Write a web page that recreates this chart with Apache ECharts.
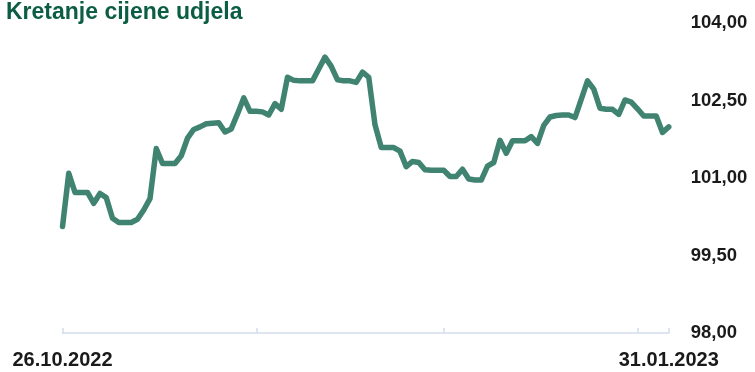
<!DOCTYPE html>
<html>
<head>
<meta charset="utf-8">
<script src="https://cdn.jsdelivr.net/npm/echarts@6/dist/echarts.min.js"></script>
<style>
  html, body { margin: 0; padding: 0; background: #ffffff; }
  #chart { width: 755px; height: 372px; }
</style>
</head>
<body>
<div id="chart"></div>
<script>
// Daily unit price, 26.10.2022 – 31.01.2023 (weekends and holidays carry the last price)
const startDate = [2022, 9, 26];
const dayCount = 98;

const prices = [
  100.06, 101.09, 100.72, 100.72, 100.72, 100.51, 100.70, 100.62, 100.22, 100.14,
  100.14, 100.14, 100.20, 100.38, 100.60, 101.57, 101.28, 101.28, 101.28, 101.43,
  101.77, 101.94, 101.99, 102.05, 102.06, 102.07, 101.89, 101.95, 102.24, 102.55,
  102.29, 102.29, 102.28, 102.22, 102.44, 102.33, 102.95, 102.89, 102.88, 102.88,
  102.88, 103.11, 103.34, 103.16, 102.90, 102.88, 102.88, 102.85, 103.05, 102.95,
  102.03, 101.59, 101.59, 101.59, 101.52, 101.22, 101.32, 101.30, 101.16, 101.15,
  101.15, 101.15, 101.03, 101.03, 101.17, 100.98, 100.96, 100.96, 101.23, 101.30,
  101.73, 101.48, 101.72, 101.72, 101.72, 101.80, 101.67, 102.02, 102.18, 102.21,
  102.22, 102.22, 102.17, 102.52, 102.88, 102.72, 102.35, 102.33, 102.33, 102.23,
  102.51, 102.47, 102.34, 102.20, 102.20, 102.20, 101.88, 101.99
];

const yMin = 98;
const yMax = 104;
const yStep = 1.5;

function pad(n) { return (n < 10 ? '0' : '') + n; }

// One category per calendar day, labelled dd.mm.yyyy
const dates = [];
for (let i = 0; i < dayCount; i++) {
  const d = new Date(startDate[0], startDate[1], startDate[2] + i);
  dates.push(pad(d.getDate()) + '.' + pad(d.getMonth() + 1) + '.' + d.getFullYear());
}
const lastIndex = dates.length - 1;

const chart = echarts.init(document.getElementById('chart'), null, { renderer: 'canvas' });

chart.setOption({
  animation: false,
  backgroundColor: '#ffffff',
  title: {
    text: 'Kretanje cijene udjela',
    left: 1,
    top: -4,
    textStyle: {
      fontFamily: 'Liberation Sans',
      fontWeight: 'bold',
      fontSize: 23,
      color: '#0b5d43'
    }
  },
  grid: { left: 62.5, right: 86.25, top: 23, bottom: 39 },
  xAxis: {
    type: 'category',
    data: dates,
    boundaryGap: false,
    axisLine: { show: true, lineStyle: { color: '#d3ddeb', width: 1.5 } },
    axisTick: {
      show: true,
      inside: true,
      length: 5,
      interval: function (idx, val) { return idx === 0 || idx === lastIndex || val.slice(0, 2) === '26'; },
      lineStyle: { color: '#d3ddeb', width: 1.5 }
    },
    axisLabel: {
      interval: function (idx) { return idx === 0 || idx === lastIndex; },
      margin: 17,
      fontFamily: 'Liberation Sans',
      fontWeight: 'bold',
      fontSize: 20,
      color: '#1a1a1a'
    },
    splitLine: { show: false }
  },
  yAxis: {
    type: 'value',
    position: 'right',
    min: yMin,
    max: yMax,
    interval: yStep,
    axisLine: { show: false },
    axisTick: { show: false },
    splitLine: { show: false },
    axisLabel: {
      margin: 22,
      fontFamily: 'Liberation Sans',
      fontWeight: 'bold',
      fontSize: 18.5,
      color: '#1a1a1a',
      formatter: function (v) { return v.toFixed(2).replace('.', ','); }
    }
  },
  series: [{
    type: 'line',
    data: prices,
    showSymbol: false,
    symbol: 'none',
    lineStyle: { color: '#3f8370', width: 5.5, join: 'round', cap: 'round' },
    itemStyle: { color: '#3f8370' }
  }]
});
</script>
</body>
</html>
